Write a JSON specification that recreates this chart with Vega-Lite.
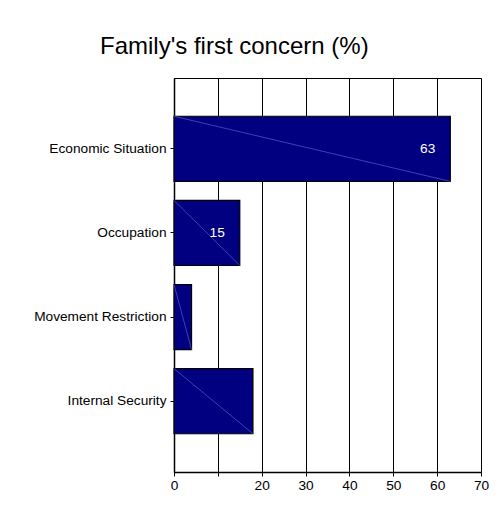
{
  "$schema": "https://vega.github.io/schema/vega-lite/v6.json",
  "width": 307,
  "height": 394,
  "autosize": {"type": "none"},
  "padding": {"left": 174, "top": 78, "right": 22, "bottom": 34},
  "background": "white",
  "config": {
    "font": "Liberation Sans",
    "view": {"stroke": "black", "strokeWidth": 1}
  },
  "title": {
    "text": "Family's first concern (%)",
    "anchor": "start",
    "frame": "group",
    "dx": -74,
    "offset": 0,
    "baseline": "alphabetic",
    "fontSize": 24,
    "font": "Liberation Sans",
    "fontWeight": "normal",
    "color": "black"
  },
  "data": {
    "values": [
      {"concern": "Economic Situation", "percent": 63},
      {"concern": "Occupation", "percent": 15},
      {"concern": "Movement Restriction", "percent": 4},
      {"concern": "Internal Security", "percent": 18}
    ]
  },
  "encoding": {
    "y": {
      "field": "concern",
      "type": "nominal",
      "sort": null,
      "scale": {"paddingInner": 0.226, "paddingOuter": 0.455},
      "axis": {
        "title": null,
        "domainColor": "black",
        "domainWidth": 1.5,
        "tickColor": "black",
        "tickSize": 4,
        "labelPadding": 4,
        "labelFontSize": 13.7,
        "labelColor": "black",
        "labelFont": "Liberation Sans"
      }
    }
  },
  "layer": [
    {
      "mark": {"type": "bar", "color": "#000080", "stroke": "black", "strokeWidth": 1.2},
      "encoding": {
        "x": {
          "field": "percent",
          "type": "quantitative",
          "scale": {"domain": [0, 70], "nice": false},
          "axis": {
            "title": null,
            "values": [0, 10, 20, 30, 40, 50, 60, 70],
            "labelExpr": "datum.value == 10 ? '' : datum.label",
            "labelFlush": false,
            "grid": true,
            "gridColor": "black",
            "gridOpacity": 1,
            "gridWidth": 1,
            "domainColor": "black",
            "domainWidth": 1.5,
            "tickColor": "black",
            "tickSize": 4,
            "labelPadding": 2,
            "labelFontSize": 13.7,
            "labelColor": "black",
            "labelFont": "Liberation Sans"
          }
        }
      }
    },
    {
      "mark": {"type": "rule", "color": "#6a6ad8", "strokeWidth": 0.6},
      "encoding": {
        "x": {"field": "percent", "type": "quantitative"},
        "x2": {"datum": 0},
        "y": {"field": "concern", "type": "nominal", "sort": null, "bandPosition": 1},
        "y2": {"field": "concern", "bandPosition": 0}
      }
    },
    {
      "transform": [{"filter": {"field": "concern", "oneOf": ["Economic Situation", "Occupation"]}}],
      "mark": {"type": "text", "align": "right", "baseline": "middle", "dx": -15, "color": "white", "fontSize": 13.7, "font": "Liberation Sans"},
      "encoding": {
        "x": {"field": "percent", "type": "quantitative"},
        "text": {"field": "percent", "type": "quantitative"}
      }
    }
  ]
}
